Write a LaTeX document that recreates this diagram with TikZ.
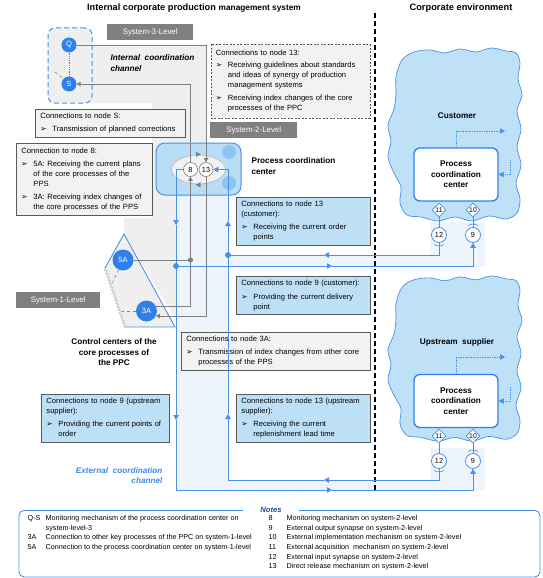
\documentclass[tikz,border=0pt]{standalone}
\usepackage{fontspec}
\setmainfont{Liberation Sans}
\newfontfamily\dejavu{DejaVu Sans}
\usetikzlibrary{shapes.geometric,arrows.meta,calc,decorations.pathmorphing}
\definecolor{graybox}{HTML}{F2F2F2}
\definecolor{boxline}{HTML}{595959}
\definecolor{lvlgray}{HTML}{808080}
\definecolor{bluebox}{HTML}{BDE0F6}
\definecolor{nodeblue}{HTML}{2F80E8}
\definecolor{lineblue}{HTML}{4A90E8}
\definecolor{cloudfill}{HTML}{BFE1F8}
\definecolor{chanblue}{HTML}{EDF4FB}
\definecolor{changray}{HTML}{EFEFEF}
\definecolor{conngray}{HTML}{7F7F7F}
\definecolor{pccfill}{HTML}{B9DDF7}
\definecolor{pccdot}{HTML}{8DC4F0}
\definecolor{notesblue}{HTML}{1F4E9A}
\definecolor{extblue}{HTML}{3D8BE8}
\definecolor{zig}{HTML}{C4C4C4}
\newcommand{\fs}{\fontsize{7.6}{10}\selectfont}
\newcommand{\fn}{\fontsize{7.2}{9.7}\selectfont}
\newcommand{\bul}{\makebox[12pt][l]{\dejavu\fontsize{7.6}{7}\selectfont ➢}}
\newcommand{\ind}{\hspace*{12pt}}
\newcommand{\tl}[1]{\begin{tabular}{@{}l@{}}#1\end{tabular}}
\tikzset{
  cbox/.style={draw=boxline, line width=0.9pt, fill=graybox, anchor=north west, align=left, inner xsep=5pt, inner ysep=0pt, font=\fs},
  bbox/.style={cbox, fill=bluebox},
  lvlbox/.style={fill=lvlgray, text=white, font=\fontsize{7.9}{9}\selectfont, anchor=north west, inner sep=0pt, minimum height=16pt},
  bnode/.style={circle, fill=nodeblue, text=white, inner sep=0pt, font=\fontsize{7.5}{8}\selectfont},
  wnode/.style={circle, draw=conngray, fill=white, inner sep=0pt, minimum size=14pt, font=\fontsize{7.3}{8}\selectfont, line width=0.6pt},
  cnode/.style={circle, draw=lineblue, fill=white, inner sep=0pt, minimum size=15pt, font=\fontsize{7.3}{8}\selectfont, line width=0.8pt},
  dnode/.style={diamond, draw=lineblue, fill=white, inner sep=0pt, minimum size=14pt, font=\fontsize{6.8}{7}\selectfont, line width=0.7pt},
  gline/.style={draw=conngray, line width=0.8pt},
  bline/.style={draw=lineblue, line width=0.9pt},
  btip/.style={-{Triangle[width=5.5pt,length=5pt]}},
  gtip/.style={-{Triangle[width=4.5pt,length=4pt]}},
  lbl/.style={font=\bfseries\fontsize{8.2}{10.5}\selectfont},
  inbox/.style={draw=nodeblue, line width=1.3pt, fill=white, rounded corners=6pt, minimum width=84pt, minimum height=53pt, align=center, font=\bfseries\fontsize{8.2}{10.5}\selectfont},
  dotarrow/.style={draw=lineblue, line width=0.7pt, densely dotted, -{Triangle[width=5.5pt,length=5pt]}},
  cloud/.style={draw=lineblue, line width=0.7pt, fill=cloudfill},
}
\begin{document}
\begin{tikzpicture}[x=1pt,y=-1pt]
\useasboundingbox (0,0) rectangle (542,578);
% channel backgrounds
\fill[changray] (92,45) -- (206,45) -- (206,318) -- (175,318) -- (124,234) -- (124,218) -- (152,218) -- (152,103) -- (92,103) -- cycle;
\fill[chanblue] (176,165) -- (228,165) -- (228,255) -- (430,255) -- (430,222) -- (485,222) -- (485,267) -- (228,267) -- (228,480) -- (430,480) -- (430,448) -- (485,448) -- (485,490) -- (176,490) -- cycle;

% titles
\node (title) at (194,8) {\bfseries{\fontsize{9.2}{11}\selectfont Internal corporate production} {\fontsize{8.3}{11}\selectfont management system}};
\node[font=\bfseries\fontsize{9.3}{11}\selectfont] (envtitle) at (461,8) {Corporate environment};
\draw[black, line width=1.6pt, dash pattern=on 5pt off 3pt] (375,13) -- (375,492);

% system 3
\node[draw=lineblue, dash pattern=on 5pt off 3pt, line width=1pt, fill=changray, rounded corners=7pt, minimum width=44pt, minimum height=75pt, inner sep=0pt] (qsbox) at (70,65.5) {};
\node[bnode, minimum size=15pt] (Q) at (69,45) {Q};
\node[bnode, minimum size=15pt] (S) at (69,84) {S};
\draw[conngray, densely dotted, line width=0.8pt] (Q) -- (S);
\draw[conngray, dashed, line width=0.6pt] (55,72) -- (S.north west);
\node[lvlbox, minimum width=86pt] (lvl3) at (107,24) {System-3-Level};
\node[lvlbox, minimum width=87pt] (lvl2) at (210,122) {System-2-Level};
\node[lvlbox, minimum width=84pt] (lvl1) at (16,292) {System-1-Level};
\node[font=\bfseries\itshape\fontsize{8.2}{10.5}\selectfont, align=left, anchor=west] (icc) at (107,63) {Internal\ \ coordination\\channel};

% grey boxes
\node[cbox, dash pattern=on 2pt off 1.5pt, text width=149pt, minimum height=74pt] (c13) at (210.5,44) {\tl{Connections to node 13:\\[2pt]
\bul Receiving guidelines about standards\\
\ind and ideas of synergy of production\\
\ind management systems\\[3pt]
\bul Receiving index changes of the core\\
\ind processes of the PPC}};
\node[cbox, text width=140pt, minimum height=28pt] (cS) at (35,109) {\tl{Connections to node S:\\[3pt] \bul Transmission of planned corrections}};
\node[cbox, text width=126pt, minimum height=72pt] (c8) at (16,143) {\tl{Connection to node 8:\\[3pt]
\bul 5A: Receiving the current plans\\
\ind of the core processes of the\\
\ind PPS\\[3.5pt]
\bul 3A: Receiving index changes of\\
\ind the core processes of the PPS}};
\node[cbox, text width=179pt, minimum height=38pt] (c3A) at (181,332) {\tl{Connections to node 3A:\\[3pt]
\bul Transmission of index changes from other core\\
\ind processes of the PPS}};

% blue boxes
\node[bbox, text width=124pt, minimum height=48pt] (cust13) at (236,197) {\tl{Connections to node 13\\(customer):\\[3pt]
\bul Receiving the current order\\
\ind points}};
\node[bbox, text width=124pt, minimum height=38pt] (cust9) at (236,276) {\tl{Connections to node 9 (customer):\\[4pt]
\bul Providing the current delivery\\
\ind point}};
\node[bbox, text width=118pt, minimum height=48pt] (sup9) at (41,394) {\tl{Connections to node 9 (upstream\\supplier):\\[3pt]
\bul Providing the current points of\\
\ind order}};
\node[bbox, text width=124pt, minimum height=48pt] (sup13) at (236,394) {\tl{Connections to node 13 (upstream\\supplier):\\[3pt]
\bul Receiving the current\\
\ind replenishment lead time}};
\node[font=\bfseries\itshape\fontsize{8.2}{10}\selectfont, text=extblue, align=right, anchor=east] (ecc) at (166,476) {External\ \ coordination\\channel};

% system 2 process coordination center
\node[draw=lineblue, fill=pccfill, rounded corners=9pt, line width=1pt, minimum width=85pt, minimum height=52pt, inner sep=0pt] (pcc) at (198.5,169) {};
\node[circle, fill=pccdot, minimum size=14pt, inner sep=0pt] (pd1) at (229,152) {};
\node[circle, fill=pccdot, minimum size=14pt, inner sep=0pt] (pd2) at (229,183) {};
\node[ellipse, draw=conngray!60, fill=graybox, minimum width=54pt, minimum height=29pt, line width=0.6pt, inner sep=0pt] (ell) at (198.5,169.5) {};
\fill[conngray] (196,151.8) -- (201,154.3) -- (196,156.8) -- cycle;
\fill[conngray] (200.5,182.3) -- (195.5,184.8) -- (200.5,187.3) -- cycle;
\node[wnode] (n8) at (190.5,169.5) {8};
\node[wnode] (n13) at (206,169.5) {13};
\node[lbl, align=left, anchor=west] (pcclbl) at (248,166) {Process coordination\\center};

% system 1 triangle
\fill[changray] (105,268) -- (124,234) -- (175,327) -- (125,327) -- cycle;
\draw[zig, line width=0.8pt, decorate, decoration={zigzag, amplitude=1.2pt, segment length=3.5pt}] (125,327) -- (105,268);
\draw[lineblue, line width=0.9pt] (105,268) -- (124,234) -- (175,327) -- (125,327);
\node[bnode, minimum size=21pt] (A5) at (123,260) {5A};
\node[bnode, minimum size=21pt] (A3) at (146.5,311) {3A};
\draw[conngray, dashed, line width=0.6pt] (A5.245) -- ($(A5.245)+(-6,13)$);
\draw[conngray, dashed, line width=0.6pt] (A3.west) -- ++(-14,0);
\node[lbl, align=center] (ccl) at (114,352.5) {Control centers of the\\core processes of\\the PPC};

% customer cloud
\begin{scope}[shift={(388,47)}]
\draw[cloud] plot[smooth cycle, tension=0.55] coordinates {(8,30) (14,13) (26,5) (42,3) (57,6) (72,2) (88,5) (103,1) (118,4) (128,6) (132,16) (130,32) (134,48) (129,64) (133,82) (129,100) (133,118) (128,136) (132,152) (129,166) (118,172) (101,169) (84,174) (67,170) (50,174) (33,170) (19,168) (12,156) (13,140) (6,126) (0,110) (3,94) (0,78) (6,62) (8,46)};
\end{scope}
\node[lbl] (custlbl) at (457,116) {Customer};
\node[inbox] (cpcc) at (456,174.5) {Process\\coordination\\center};
\node[dnode] (d11) at (439,210) {11};
\node[dnode] (d10) at (473,210) {10};
\node[cnode] (c12) at (439,235) {12};
\node[cnode] (c9) at (473,235) {9};
\draw[bline] (d11) -- (c12);
\draw[bline] (d10) -- (c9);
\draw[lineblue, line width=0.6pt] ($(c12.south)+(-5,1.5)$) .. controls ($(c12.south)+(-2,3.5)$) and ($(c12.south)+(2,3.5)$) .. ($(c12.south)+(5,1.5)$);
\draw[lineblue, line width=0.6pt] ($(c9.north)+(-5,-1.5)$) .. controls ($(c9.north)+(-2,-3.5)$) and ($(c9.north)+(2,-3.5)$) .. ($(c9.north)+(5,-1.5)$);
\coordinate (cq1) at (505,131);
\draw[dotarrow] (cpcc.north) |- (cq1);
\coordinate (cq2) at (510,160);
\draw[dotarrow] (cq2) |- (cpcc.east);

% supplier cloud
\begin{scope}[shift={(388,275)}, yscale=0.955]
\draw[cloud] plot[smooth cycle, tension=0.55] coordinates {(8,30) (14,13) (26,5) (42,3) (57,6) (72,2) (88,5) (103,1) (118,4) (128,6) (132,16) (130,32) (134,48) (129,64) (133,82) (129,100) (133,118) (128,136) (132,152) (129,166) (118,172) (101,169) (84,174) (67,170) (50,174) (33,170) (19,168) (12,156) (13,140) (6,126) (0,110) (3,94) (0,78) (6,62) (8,46)};
\end{scope}
\node[lbl] (suplbl) at (457,342) {Upstream\ \ supplier};
\node[inbox] (spcc) at (456,401) {Process\\coordination\\center};
\node[dnode] (s11) at (439,436) {11};
\node[dnode] (s10) at (473,436) {10};
\node[cnode] (s12) at (439,461) {12};
\node[cnode] (s9) at (473,461) {9};
\draw[bline] (s11) -- (s12);
\draw[bline] (s10) -- (s9);
\draw[lineblue, line width=0.6pt] ($(s12.south)+(-5,1.5)$) .. controls ($(s12.south)+(-2,3.5)$) and ($(s12.south)+(2,3.5)$) .. ($(s12.south)+(5,1.5)$);
\draw[lineblue, line width=0.6pt] ($(s9.north)+(-5,-1.5)$) .. controls ($(s9.north)+(-2,-3.5)$) and ($(s9.north)+(2,-3.5)$) .. ($(s9.north)+(5,-1.5)$);
\coordinate (sq1) at (505,357);
\draw[dotarrow] (spcc.north) |- (sq1);
\coordinate (sq2) at (510,387);
\draw[dotarrow] (sq2) |- (spcc.east);

% grey connectors
\coordinate (gd) at (190.5,260);
\draw[gline, gtip] (Q) -| (n13);
\draw[gline, gtip] (n8) |- (S);
\draw[gline] (A5) -- (gd);
\draw[gline, gtip] (gd) -- (n8);
\draw[gline] (gd) |- (A3.25);
\draw[gline, gtip] (n13) |- (A3.-28);
\fill[conngray] (gd) circle (2.6pt);

% blue connectors
\coordinate (b1) at (176,266);
\coordinate (b2) at (228,255);
\coordinate (ar1) at (176,225);
\coordinate (ar2) at (332,266);
\coordinate (ar3) at (176,420);
\coordinate (ar4) at (332,490);
\coordinate (ar5) at (228,221);
\coordinate (ar6) at (324,255);
\coordinate (ar7) at (324,480);
\coordinate (ar8) at (228,414);
\draw[bline, btip] (n8.west) -| (ar1);
\draw[bline] (ar1) -- (b1);
\draw[bline, btip] (b1) -- (ar2);
\draw[bline, btip] (ar2) -| (c9);
\draw[bline, btip] (b1) -- (ar3);
\draw[bline, btip] (ar3) |- (ar4);
\draw[bline, btip] (ar4) -| (s9);
\draw[bline, btip] (b2) -- (ar5);
\draw[bline, btip] (ar5) |- (n13);
\draw[bline, btip] (c12) |- (ar6);
\draw[bline] (ar6) -- (b2);
\draw[bline, btip] (s12) |- (ar7);
\draw[bline, btip] (ar7) -| (ar8);
\draw[bline] (ar8) -- (b2);
\fill[lineblue] (b1) circle (3pt);
\fill[lineblue] (b2) circle (3pt);

% notes
\node[draw=lineblue, line width=0.9pt, rounded corners=5pt, minimum width=521pt, minimum height=66.5pt, anchor=north west, inner sep=0pt] (notesbox) at (18.5,510) {};
\node[fill=white, inner xsep=17pt, inner ysep=1pt, font=\bfseries\itshape\fontsize{7.6}{9}\selectfont, text=notesblue] (noteslbl) at (271,510) {Notes};
\node[anchor=north west, inner sep=0pt, font=\fn] (notesl) at (27.5,513.5) {\begin{tabular}{@{}p{18pt}@{}l@{}}
Q-S & Monitoring mechanism of the process coordination center on\\
 & system-level-3\\
3A & Connection to other key processes of the PPC on system-1-level\\
5A & Connection to the process coordination center on system-1-level
\end{tabular}};
\node[anchor=north west, inner sep=0pt, font=\fn] (notesr) at (268.5,513.5) {\begin{tabular}{@{}p{18pt}@{}l@{}}
8 & Monitoring mechanism on system-2-level\\
9 & External output synapse on system-2-level\\
10 & External implementation mechanism on system-2-level\\
11 & External acquisition\ \ mechanism on system-2-level\\
12 & External input synapse on system-2-level\\
13 & Direct release mechanism on system-2-level
\end{tabular}};
\end{tikzpicture}
\end{document}
